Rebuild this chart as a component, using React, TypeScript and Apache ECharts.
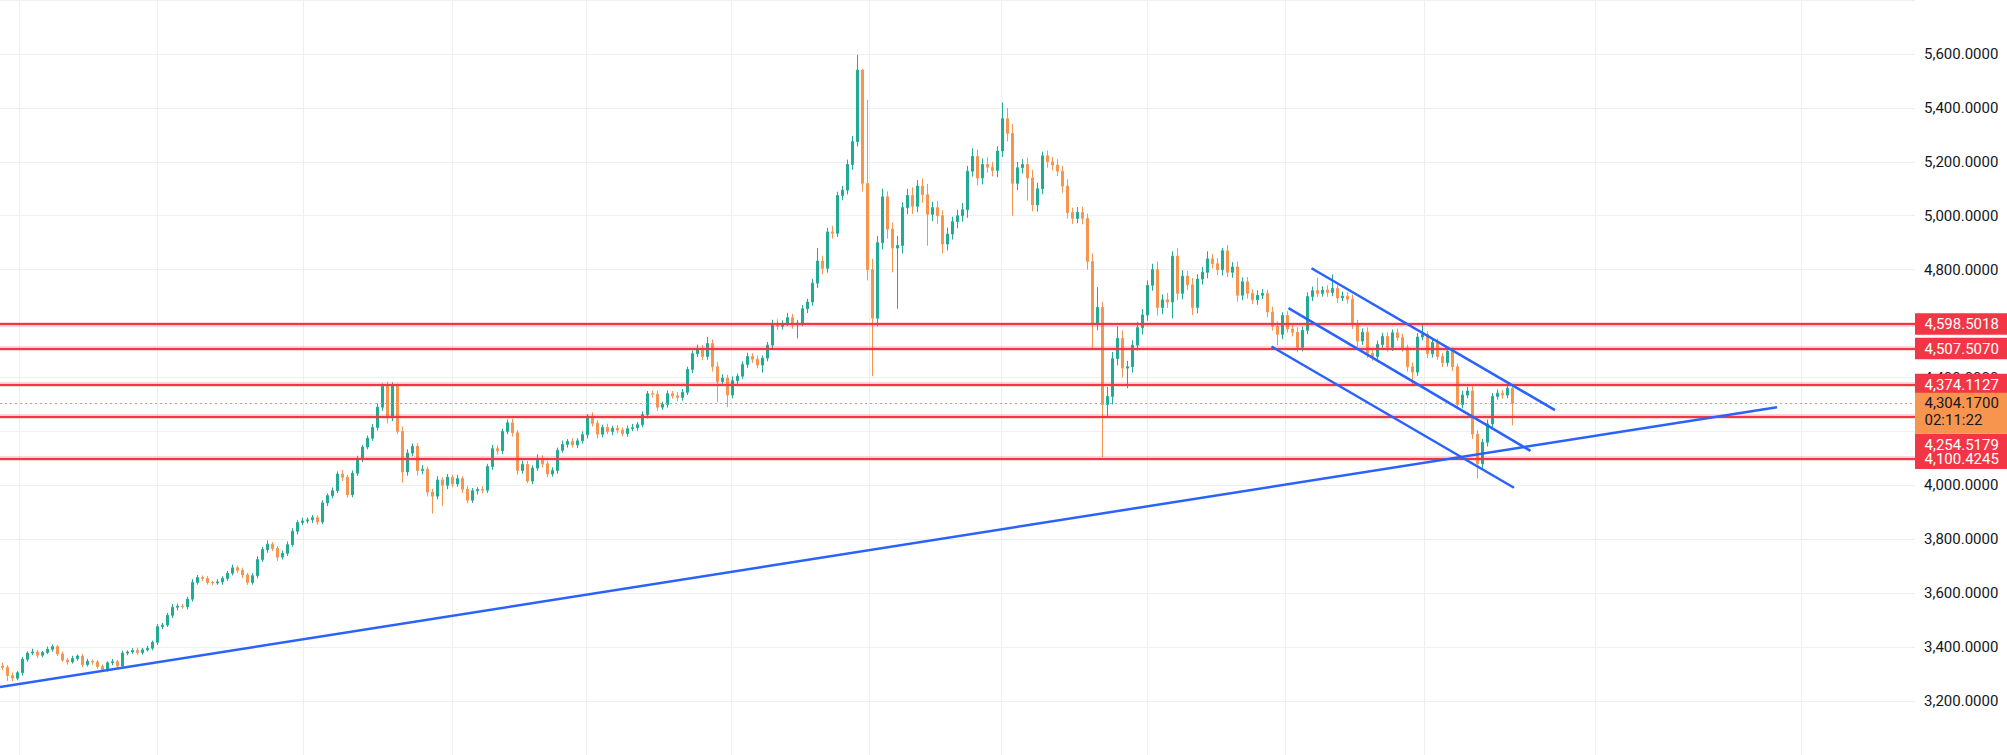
import React, { useEffect, useRef } from "react";
import * as echarts from "echarts";

// ---- data (one candle per ~5px column) ----
const firstOpen = 3330;
const closes = [
  3325, 3295, 3285, 3305, 3355, 3378, 3382, 3370, 3380, 3392,
  3402, 3375, 3352, 3345, 3358, 3367, 3335, 3348, 3345, 3328,
  3316, 3342, 3346, 3330, 3378, 3382, 3388, 3380, 3390, 3396,
  3418, 3476, 3482, 3518, 3548, 3552, 3550, 3578, 3640, 3658,
  3655, 3640, 3638, 3642, 3655, 3674, 3694, 3685, 3668, 3640,
  3665, 3725, 3762, 3782, 3766, 3734, 3748, 3780, 3830, 3862,
  3868, 3872, 3880, 3864, 3935, 3962, 3980, 4042, 4030, 3965,
  4045, 4098, 4142, 4175, 4215, 4290, 4368, 4250, 4372, 4200,
  4050, 4120, 4145, 4055, 4060, 3975, 3960, 4020, 4000, 4030,
  4005, 4025, 3986, 3945, 3980, 3985, 3982, 4070, 4136, 4128,
  4200, 4232, 4195, 4055, 4078, 4016, 4064, 4100, 4080, 4042,
  4055, 4130, 4152, 4163, 4150, 4165, 4188, 4256, 4230, 4190,
  4215, 4200, 4212, 4205, 4192, 4210, 4214, 4225, 4262, 4340,
  4338, 4290, 4300, 4340, 4332, 4326, 4345, 4430, 4488, 4508,
  4478, 4526, 4440, 4385, 4398, 4335, 4388, 4405, 4448, 4478,
  4468, 4446, 4472, 4520, 4600, 4590, 4600, 4622, 4595, 4602,
  4655, 4680, 4750, 4832, 4805, 4940, 4935, 5075, 5095, 5190,
  5275, 5540, 5120, 4800, 4620, 4900, 5070, 4950, 4880, 4890,
  5030, 5075, 5035, 5110, 5078, 5005, 5030, 5000, 4895, 4932,
  4978, 5000, 5022, 5165, 5220, 5140, 5190, 5180, 5168, 5240,
  5360, 5305, 5120, 5178, 5190, 5140, 5040, 5100, 5222, 5200,
  5188, 5165, 5110, 5012, 4990, 5012, 4990, 4830, 4600, 4660,
  4300, 4330, 4470, 4545, 4435, 4440, 4520, 4585, 4632, 4742,
  4800, 4660, 4688, 4680, 4850, 4712, 4776, 4744, 4660, 4765,
  4790, 4840, 4822, 4800, 4870, 4790, 4810, 4705, 4755, 4712,
  4688, 4705, 4712, 4643, 4590, 4560, 4630, 4580, 4568, 4512,
  4575, 4700, 4722, 4712, 4724, 4715, 4730, 4695, 4702, 4690,
  4598, 4535, 4568, 4490, 4478, 4522, 4552, 4512, 4566, 4548,
  4510, 4440, 4420, 4550, 4560, 4488, 4530, 4478, 4455, 4498,
  4440, 4300, 4335, 4350, 4190, 4080, 4160, 4228, 4330, 4342,
  4335, 4360, 4304.17,
];
const upperWicks = [
  12, 8, 10, 6, 9, 7, 12, 8, 6, 10,
  8, 6, 9, 7, 10, 6, 8, 9, 6, 7,
  8, 6, 10, 7, 9, 6, 8, 10, 7, 9,
  6, 10, 8, 9, 12, 10, 8, 9, 12, 10,
  8, 9, 6, 10, 8, 9, 12, 8, 10, 7,
  9, 12, 10, 14, 8, 9, 10, 12, 11, 9,
  12, 8, 10, 9, 10, 8, 12, 10, 15, 9,
  10, 12, 8, 10, 12, 14, 10, 16, 10, 5,
  18, 14, 10, 12, 15, 10, 12, 14, 10, 12,
  10, 14, 9, 12, 10, 8, 12, 10, 14, 12,
  10, 12, 15, 10, 14, 12, 10, 15, 12, 10,
  12, 10, 14, 9, 12, 10, 12, 8, 15, 12,
  10, 14, 9, 12, 10, 12, 14, 10, 12, 10,
  12, 14, 10, 12, 10, 14, 12, 10, 12, 14,
  12, 24, 15, 18, 14, 12, 16, 10, 12, 14,
  12, 14, 10, 12, 14, 16, 12, 18, 14, 12,
  14, 12, 16, 48, 20, 15, 22, 14, 16, 18,
  20, 57, 5, 310, 40, 25, 30, 20, 25, 35,
  20, 25, 30, 22, 28, 40, 22, 25, 20, 24,
  18, 22, 25, 20, 30, 25, 22, 26, 20, 18,
  60, 40, 35, 22, 20, 25, 30, 22, 16, 20,
  18, 22, 20, 25, 18, 20, 22, 18, 30, 75,
  20, 35, 25, 45, 30, 22, 18, 20, 22, 18,
  22, 30, 20, 25, 18, 30, 22, 20, 25, 18,
  20, 28, 18, 20, 10, 22, 18, 20, 16, 18,
  15, 18, 16, 14, 20, 18, 12, 16, 14, 18,
  14, 16, 15, 48, 14, 18, 52, 12, 16, 14,
  18, 16, 14, 18, 12, 15, 14, 16, 12, 15,
  14, 12, 16, 14, 40, 12, 16, 14, 12, 15,
  14, 12, 16, 16, 18, 14, 12, 16, 12, 14,
  12, 18, 6,
];
const lowerWicks = [
  10, 20, 12, 8, 10, 9, 7, 10, 8, 6,
  9, 8, 7, 10, 6, 8, 9, 7, 10, 8,
  8, 7, 9, 10, 6, 8, 7, 9, 8, 6,
  8, 10, 9, 7, 10, 12, 8, 10, 9, 8,
  10, 8, 9, 7, 10, 9, 8, 10, 12, 9,
  8, 10, 9, 12, 10, 14, 9, 10, 8, 12,
  10, 9, 12, 10, 8, 12, 10, 9, 14, 10,
  9, 10, 12, 8, 10, 12, 14, 20, 12, 10,
  40, 14, 12, 18, 14, 16, 65, 12, 76, 14,
  12, 10, 14, 12, 10, 14, 12, 10, 12, 14,
  12, 10, 14, 16, 12, 8, 12, 10, 14, 12,
  10, 12, 9, 12, 10, 12, 10, 14, 12, 16,
  12, 10, 14, 12, 10, 12, 9, 12, 10, 14,
  12, 14, 10, 12, 10, 14, 12, 10, 14, 12,
  14, 12, 18, 75, 14, 45, 12, 16, 10, 12,
  14, 12, 28, 12, 16, 14, 12, 10, 14, 50,
  12, 16, 14, 18, 22, 16, 20, 14, 18, 16,
  20, 18, 30, 40, 215, 30, 25, 35, 90, 225,
  30, 25, 28, 22, 30, 116, 25, 30, 35, 24,
  20, 25, 22, 30, 20, 28, 24, 20, 22, 25,
  22, 30, 120, 25, 22, 84, 23, 25, 20, 22,
  20, 18, 25, 22, 20, 18, 22, 30, 90, 25,
  195, 50, 30, 25, 35, 75, 22, 20, 25, 22,
  20, 30, 25, 22, 60, 25, 22, 20, 28, 22,
  20, 22, 18, 20, 22, 18, 20, 24, 18, 20,
  16, 18, 14, 20, 16, 40, 18, 14, 16, 18,
  15, 14, 16, 14, 12, 16, 14, 18, 12, 16,
  18, 20, 14, 18, 16, 14, 12, 16, 14, 12,
  14, 18, 45, 14, 12, 16, 14, 12, 16, 14,
  16, 15, 14, 12, 18, 55, 20, 16, 14, 12,
  14, 12, 82,
];

// horizontal levels (red) and the last price
const levels = [4598.5018, 4507.507, 4374.1127, 4254.5179, 4100.4245];
const lastPrice = 4304.17;
const countdown = "02:11:22";

// time grid lines (in candle-index units) and the x range (incl. empty future)
const timeGrid = [3.3, 30.9, 60.1, 89.9, 116.7, 145.7, 173.3, 199.7, 228.9, 256.5, 284.3, 318.5, 359.7];
const xRange = [-0.5, 382.5];

// y axis
const yMin = 3000;
const yMax = 5800;
const yStep = 200;
const hiddenTicks = [3000, 4200, 5800];

// trend lines [index, price]
const longTrend = [[-0.5, 3252], [354.9, 4290]];
const channelUpper = [[261.8, 4805], [310.5, 4279]];
const channelMiddle = [[257.2, 4657], [305.6, 4128]];
const channelLower = [[253.8, 4515], [302.3, 3991]];

const UP = "#22ab94";
const DOWN = "#f7954f";
const RED = "#f23645";
const BLUE = "#2962ff";
const FONT = "Roboto, 'Noto Sans', sans-serif";

const fmt = (v: number) =>
  v.toLocaleString("en-US", { minimumFractionDigits: 4, maximumFractionDigits: 4 });

export default function App() {
  const ref = useRef<HTMLDivElement>(null);

  useEffect(() => {
    if (!ref.current) return;
    const chart = echarts.init(ref.current, null, { renderer: "svg" });

    const candles = closes.map((c, i) => {
      const o = i === 0 ? firstOpen : closes[i - 1];
      const hi = Math.max(o, c) + upperWicks[i];
      const lo = Math.min(o, c) - lowerWicks[i];
      return [i, o, c, lo, hi];
    });

    const trend = (data: number[][], name: string) => ({
      name,
      type: "line",
      data,
      symbol: "none",
      silent: true,
      z: 6,
      lineStyle: { color: BLUE, width: 2.5 },
    });

    chart.setOption({
      animation: false,
      backgroundColor: "#ffffff",
      grid: { left: 0, right: 92, top: -42.5, bottom: -39.7, containLabel: false },
      xAxis: {
        type: "value",
        min: xRange[0],
        max: xRange[1],
        axisLine: { show: false },
        axisTick: { show: false },
        axisLabel: { show: false },
        splitLine: { show: false },
      },
      yAxis: {
        type: "value",
        position: "right",
        min: yMin,
        max: yMax,
        interval: yStep,
        scale: true,
        axisLine: { show: false },
        axisTick: { show: false },
        axisLabel: {
          color: "#131722",
          fontSize: 15,
          fontFamily: FONT,
          margin: 9,
          lineHeight: 15,
          formatter: (v: number) => (hiddenTicks.includes(v) ? "" : fmt(v)),
        },
        splitLine: { show: true, lineStyle: { color: "#efefef", width: 1 } },
      },
      series: [
        {
          name: "timegrid",
          type: "custom",
          silent: true,
          z: 0,
          data: timeGrid.map((t) => [t, 4000]),
          encode: { x: 0, y: 1 },
          renderItem: (params: any, api: any) => {
            const p = api.coord([api.value(0), api.value(1)]);
            const cs = params.coordSys;
            return {
              type: "line",
              shape: { x1: Math.round(p[0]) + 0.5, y1: cs.y, x2: Math.round(p[0]) + 0.5, y2: cs.y + cs.height },
              style: { stroke: "#efefef", lineWidth: 1 },
            };
          },
        },
        {
          name: "price",
          type: "candlestick",
          data: candles,
          encode: { x: 0, y: [1, 2, 3, 4] },
          barWidth: 3,
          z: 3,
          itemStyle: {
            color: UP,
            color0: DOWN,
            borderColor: UP,
            borderColor0: DOWN,
            borderWidth: 1,
          },
          markLine: {
            silent: true,
            symbol: ["none", "none"],
            label: { show: false },
            animation: false,
            data: [
              ...levels.map((v) => ({ yAxis: v, lineStyle: { color: "rgba(242,54,69,0.25)", width: 4.5, type: "solid" } })),
              ...levels.map((v) => ({ yAxis: v, lineStyle: { color: RED, width: 2, type: "solid" } })),
              { yAxis: lastPrice, lineStyle: { color: DOWN, width: 1, type: [2, 3] } },
            ],
          },
        },
        trend(longTrend, "trend"),
        trend(channelUpper, "upper"),
        trend(channelMiddle, "middle"),
        trend(channelLower, "lower"),
      ],
    });

    // price labels on the right scale
    const yPix = (v: number) => chart.convertToPixel({ yAxisIndex: 0 }, v) as number;
    const boxX = chart.getWidth() - 92;
    const boxW = 92;
    const textX = boxX + 9.5;
    const h = 21.6;
    const graphics: any[] = [];
    const label = (text: string, y: number, fill: string) => ({
      type: "text",
      z: 101,
      style: {
        text,
        x: textX,
        y,
        fill,
        fontSize: 15,
        fontFamily: FONT,
        lineHeight: 15,
        align: "left",
        verticalAlign: "middle",
        textAlign: "left",
        textVerticalAlign: "middle",
      },
    });
    const redBox = (text: string, top: number) => {
      graphics.push({
        type: "rect",
        z: 100,
        shape: { x: boxX, y: top, width: boxW, height: h },
        style: { fill: RED },
      });
      graphics.push(label(text, top + h / 2 + 0.5, "#ffffff"));
    };
    const yP = yPix(lastPrice);
    const orangeTop = yP - 10.7;
    const orangeH = 41;
    [levels[0], levels[1], levels[2], levels[4]].forEach((v) => redBox(fmt(v), yPix(v) - h / 2));
    redBox(fmt(levels[3]), orangeTop + orangeH);
    graphics.push({
      type: "rect",
      z: 100,
      shape: { x: boxX, y: orangeTop, width: boxW, height: orangeH },
      style: { fill: DOWN },
    });
    graphics.push(label(fmt(lastPrice), yP, "#131722"));
    graphics.push(label(countdown, yP + 17, "#131722"));
    chart.setOption({ graphic: graphics });

    return () => chart.dispose();
  }, []);

  return (
    <div
      ref={ref}
      style={{ position: "absolute", left: 0, top: 0, width: 2007, height: 755, background: "#ffffff" }}
    />
  );
}
